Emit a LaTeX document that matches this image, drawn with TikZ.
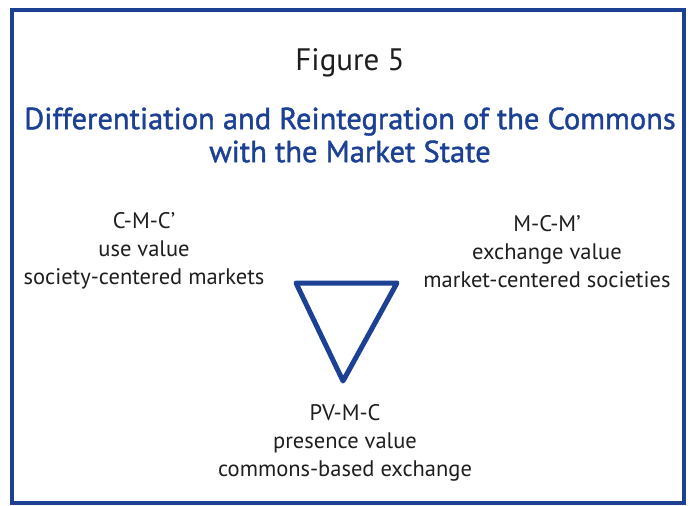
\documentclass[tikz,border=0pt]{standalone}
\usepackage{fontspec}
\setmainfont{PT Sans}
\newfontfamily\headfont[FakeBold=1.3]{PT Sans}
\usepackage{tikz}
\usetikzlibrary{positioning}
\definecolor{frameblue}{RGB}{28,64,148}
\definecolor{textgray}{RGB}{30,30,30}
\tikzset{label text/.style={align=center,text=textgray,font=\fontsize{22.5}{28}\selectfont,inner sep=0pt},}
\tikzset{title text/.style={align=center,text=frameblue,font=\headfont\fontsize{30.5}{33}\selectfont,inner sep=0pt},}

\begin{document}
\begin{tikzpicture}[x=1pt,y=-1pt]
       \useasboundingbox (0,0) rectangle (691,506);
       \draw[frameblue,line width=4pt] (12,10) rectangle (684,503);

       \node[font=\fontsize{31}{34}\selectfont,text=textgray,inner sep=0pt] (fig) at (350,63) {Figure 5};
       \node[title text] (title) at (350,135) {Differentiation and Reintegration of the Commons\\with the Market State};

       \node[label text] (use) at (144,251) {C-M-C'\\use value\\society-centered markets};
       \node[label text] (exchange) at (547,252) {M-C-M'\\exchange value\\market-centered societies};
       \node[label text] (presence) at (345,443) {PV-M-C\\presence value\\commons-based exchange};

       \coordinate (left) at (296,283);
       \coordinate (right) at (397,283);
       \coordinate (bottom) at (343,381);
       \draw[frameblue,line width=5pt,line join=round] (left) -- (right) -- (bottom) -- cycle;
    \end{tikzpicture}
\end{document}
